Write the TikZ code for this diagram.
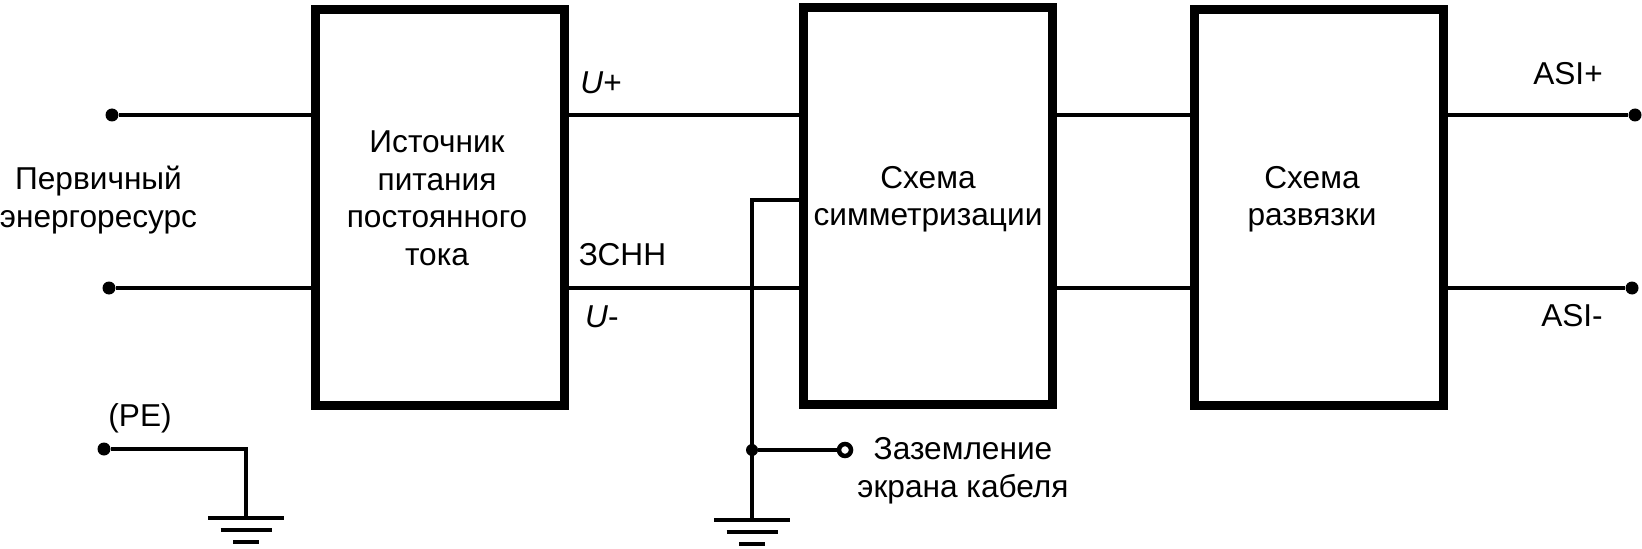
\documentclass[tikz,border=0pt]{standalone}
\usepackage{fontspec}
\setmainfont{Liberation Sans}
\tikzset{
  blockbox/.style={draw, line width=0.18cm, minimum width=4.98cm, minimum height=7.92cm},
  wire/.style={line width=0.09cm},
  dotterm/.style={circle, fill=black, inner sep=0pt, minimum size=0.26cm},
  openterm/.style={circle, draw, fill=white, line width=0.09cm, inner sep=0pt, minimum size=0.24cm},
  lbl/.style={inner sep=0pt, anchor=base, align=center, font=\fontsize{18}{21.3}\selectfont},
  gnd/.pic={
    \draw [line width=0.07cm] (-0.76,0) -- (0.76,0);
    \draw [line width=0.08cm] (-0.51,-0.23) -- (0.51,-0.23);
    \draw [line width=0.08cm] (-0.26,-0.47) -- (0.26,-0.47);
  }
}
\begin{document}
\begin{tikzpicture}
\useasboundingbox (0,0) rectangle (32.84,10.96);

% Blocks
\node [blockbox] (source) at (8.8,6.815) {};
\node [blockbox] (symm) at (18.555,6.84) {};
\node [blockbox] (decoupl) at (26.37,6.815) {};

% Terminals
\node [dotterm] (inplus) at (2.24,8.66) {};
\node [dotterm] (inminus) at (2.18,5.2) {};
\node [dotterm] (asiplus) at (32.7,8.66) {};
\node [dotterm] (asiminus) at (32.64,5.2) {};
\node [dotterm] (pe) at (2.08,1.98) {};
\node [dotterm, minimum size=0.24cm] (junction) at (15.04,1.96) {};
\node [openterm] (shield) at (16.9,1.96) {};
\coordinate (gndpe) at (4.92,0.6);
\coordinate (gndshield) at (15.04,0.56);
\coordinate (tap) at (15.04,6.96);

% Wires
\draw [wire] (inplus) -- (inplus -| source.west);
\draw [wire] (inminus) -- (inminus -| source.west);
\draw [wire] (source.east |- inplus) -- (symm.west |- inplus);
\draw [wire] (source.east |- inminus) -- (symm.west |- inminus);
\draw [wire] (symm.east |- inplus) -- (decoupl.west |- inplus);
\draw [wire] (symm.east |- inminus) -- (decoupl.west |- inminus);
\draw [wire] (decoupl.east |- asiplus) -- (asiplus);
\draw [wire] (decoupl.east |- asiminus) -- (asiminus);
\draw [wire] (pe) -| (gndpe);
\draw [wire] (symm.west |- tap) -- (tap) -- (gndshield);
\draw [wire] (junction) -- (shield);

% Ground
\pic at (gndpe) {gnd};
\pic at (gndshield) {gnd};

% Labels
\node [lbl] (primary) at (1.97,6.42) {Первичный\\энергоресурс};
\node [lbl] (sourcetext) at (8.74,5.66) {Источник\\питания\\постоянного\\тока};
\node [lbl] (symmtext) at (18.56,6.44) {Схема\\симметризации};
\node [lbl] (decoupltext) at (26.24,6.44) {Схема\\развязки};
\node [lbl] (uplus) at (12.02,9.08) {\textit{U}+};
\node [lbl] (vlow) at (12.45,5.66) {ЗСНН};
\node [lbl] (uminus) at (12.04,4.42) {\textit{U}-};
\node [lbl] (asiptext) at (31.36,9.26) {ASI+};
\node [lbl] (asimtext) at (31.44,4.44) {ASI-};
\node [lbl] (petext) at (2.8,2.44) {(PE)};
\node [lbl] (shieldtext) at (19.26,1.02) {Заземление\\экрана кабеля};
\end{tikzpicture}
\end{document}
